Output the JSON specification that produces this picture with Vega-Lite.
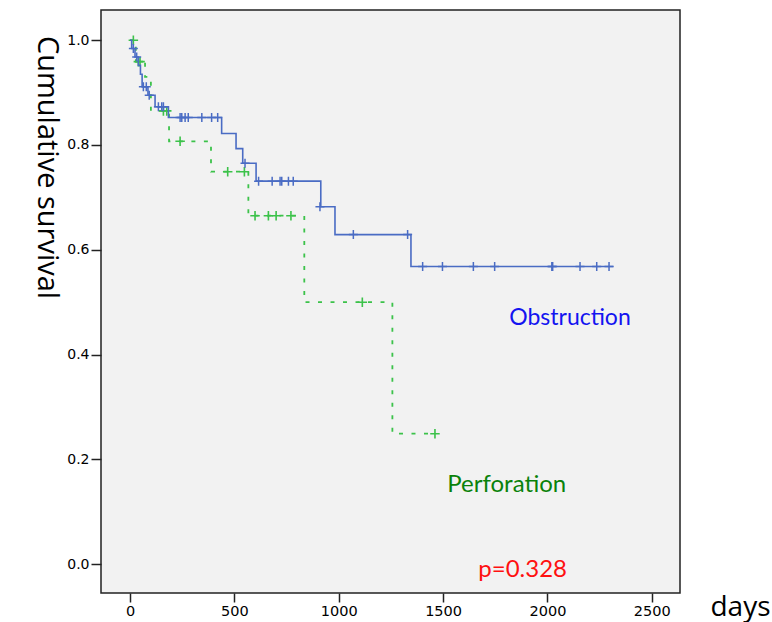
{
  "$schema": "https://vega.github.io/schema/vega-lite/v6.json",
  "width": 579,
  "height": 583,
  "autosize": "none",
  "padding": {"left": 101, "top": 10, "right": 92, "bottom": 29},
  "background": "white",
  "view": {"fill": "#f2f2f2", "stroke": "#222222", "strokeWidth": 1.5},
  "datasets": {
    "obstruction_steps": [
      {"day": 0, "surv": 1.0}, {"day": 8, "surv": 0.984}, {"day": 24, "surv": 0.968},
      {"day": 40, "surv": 0.952}, {"day": 50, "surv": 0.935}, {"day": 58, "surv": 0.911},
      {"day": 86, "surv": 0.895}, {"day": 120, "surv": 0.873}, {"day": 184, "surv": 0.8525},
      {"day": 439, "surv": 0.822}, {"day": 508, "surv": 0.793}, {"day": 540, "surv": 0.765},
      {"day": 604, "surv": 0.731}, {"day": 914, "surv": 0.682}, {"day": 982, "surv": 0.629},
      {"day": 1346, "surv": 0.568}, {"day": 2316, "surv": 0.568}
    ],
    "obstruction_censored": [
      {"day": 16, "surv": 0.984}, {"day": 32, "surv": 0.968}, {"day": 64, "surv": 0.911},
      {"day": 78, "surv": 0.911}, {"day": 92, "surv": 0.895}, {"day": 136, "surv": 0.873},
      {"day": 152, "surv": 0.873}, {"day": 160, "surv": 0.873}, {"day": 240, "surv": 0.8525},
      {"day": 248, "surv": 0.8525}, {"day": 264, "surv": 0.8525}, {"day": 279, "surv": 0.8525},
      {"day": 344, "surv": 0.8525}, {"day": 391, "surv": 0.8525}, {"day": 420, "surv": 0.8525},
      {"day": 551, "surv": 0.765}, {"day": 616, "surv": 0.731}, {"day": 681, "surv": 0.731},
      {"day": 719, "surv": 0.731}, {"day": 727, "surv": 0.731}, {"day": 759, "surv": 0.731},
      {"day": 782, "surv": 0.731}, {"day": 910, "surv": 0.682}, {"day": 1070, "surv": 0.629},
      {"day": 1330, "surv": 0.629}, {"day": 1402, "surv": 0.568}, {"day": 1497, "surv": 0.568},
      {"day": 1645, "surv": 0.568}, {"day": 1747, "surv": 0.568}, {"day": 2021, "surv": 0.568},
      {"day": 2025, "surv": 0.568}, {"day": 2156, "surv": 0.568}, {"day": 2236, "surv": 0.568},
      {"day": 2295, "surv": 0.568}
    ],
    "perforation_steps": [
      {"day": 0, "surv": 1.0}, {"day": 28, "surv": 0.959}, {"day": 72, "surv": 0.93},
      {"day": 100, "surv": 0.865}, {"day": 187, "surv": 0.807}, {"day": 388, "surv": 0.749},
      {"day": 567, "surv": 0.665}, {"day": 835, "surv": 0.5}, {"day": 1257, "surv": 0.249},
      {"day": 1461, "surv": 0.249}
    ],
    "perforation_censored": [
      {"day": 16, "surv": 1.0}, {"day": 40, "surv": 0.959}, {"day": 48, "surv": 0.959},
      {"day": 160, "surv": 0.865}, {"day": 176, "surv": 0.865}, {"day": 240, "surv": 0.807},
      {"day": 468, "surv": 0.749}, {"day": 548, "surv": 0.749}, {"day": 599, "surv": 0.665},
      {"day": 663, "surv": 0.665}, {"day": 700, "surv": 0.665}, {"day": 771, "surv": 0.665},
      {"day": 1113, "surv": 0.5}, {"day": 1461, "surv": 0.249}
    ]
  },
  "encoding": {
    "x": {
      "field": "day", "type": "quantitative",
      "scale": {"domain": [-139, 2635], "nice": false, "zero": false},
      "axis": {
        "values": [0, 500, 1000, 1500, 2000, 2500], "format": "d",
        "grid": false, "domain": false, "tickColor": "#222222", "tickSize": 9, "tickWidth": 1.5,
        "labelFont": "DejaVu Sans", "labelFontSize": 14.5, "labelColor": "#000000", "labelPadding": 2,
        "title": "days", "titleFont": "Open Sans", "titleFontSize": 28, "titleFontWeight": "normal",
        "titleColor": "#000000", "titleX": 639, "titleY": 22,
        "titleAlign": "center", "titleBaseline": "alphabetic"
      }
    },
    "y": {
      "field": "surv", "type": "quantitative",
      "scale": {"domain": [-0.055, 1.0576], "nice": false, "zero": false},
      "axis": {
        "values": [0, 0.2, 0.4, 0.6, 0.8, 1.0], "format": ".1f",
        "grid": false, "domain": false, "tickColor": "#222222", "tickSize": 10, "tickWidth": 1.5,
        "labelFont": "DejaVu Sans", "labelFontSize": 14, "labelColor": "#000000", "labelPadding": 2,
        "title": "Cumulative survival", "titleFont": "Open Sans", "titleFontSize": 29,
        "titleFontWeight": "normal", "titleColor": "#000000", "titleAngle": 90,
        "titleX": -64, "titleY": 157, "titleAlign": "center", "titleBaseline": "alphabetic"
      }
    }
  },
  "layer": [
    {
      "data": {"name": "perforation_steps"},
      "mark": {"type": "line", "interpolate": "step-after", "color": "#3cc24a", "strokeWidth": 1.8, "strokeDash": [4, 8.5]}
    },
    {
      "data": {"name": "perforation_censored"},
      "mark": {"type": "point", "shape": "M-1,0L1,0M0,-1L0,1", "size": 90, "filled": false, "color": "#3cc24a", "strokeWidth": 1.6, "opacity": 1}
    },
    {
      "data": {"name": "obstruction_steps"},
      "mark": {"type": "line", "interpolate": "step-after", "color": "#4a6cc4", "strokeWidth": 1.6}
    },
    {
      "data": {"name": "obstruction_censored"},
      "mark": {"type": "point", "shape": "M-1,0L1,0M0,-1L0,1", "size": 81, "filled": false, "color": "#4a6cc4", "strokeWidth": 1.5, "opacity": 1}
    },
    {
      "data": {"values": [{"label": "Obstruction", "day": 2108, "surv": 0.456}]},
      "mark": {"type": "text", "font": "Lato", "fontSize": 23, "color": "#1414f0", "align": "center", "baseline": "alphabetic"},
      "encoding": {"text": {"field": "label"}}
    },
    {
      "data": {"values": [{"label": "Perforation", "day": 1805, "surv": 0.137}]},
      "mark": {"type": "text", "font": "Lato", "fontSize": 24, "color": "#0a820a", "align": "center", "baseline": "alphabetic"},
      "encoding": {"text": {"field": "label"}}
    },
    {
      "data": {"values": [{"label": "p=0.328", "day": 1881, "surv": -0.025}]},
      "mark": {"type": "text", "font": "Lato", "fontSize": 24, "color": "#ff1010", "align": "center", "baseline": "alphabetic"},
      "encoding": {"text": {"field": "label"}}
    }
  ]
}
